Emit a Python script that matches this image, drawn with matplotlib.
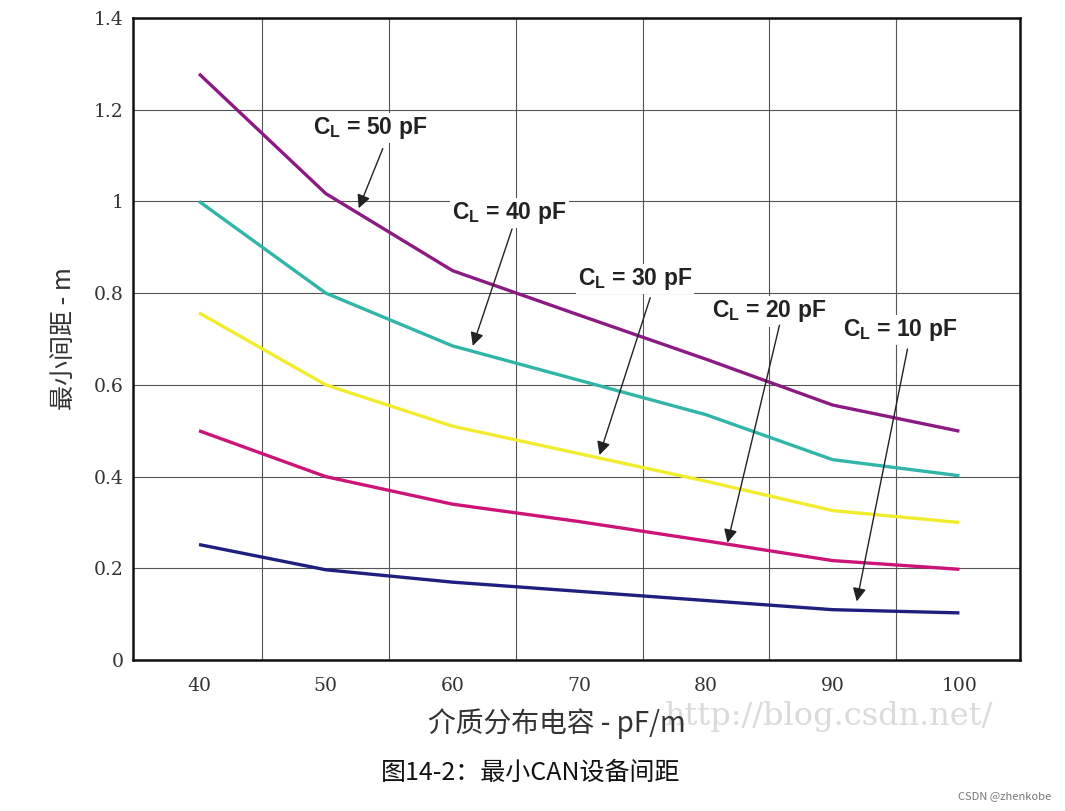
import numpy as np
import matplotlib
matplotlib.use("Agg")
import matplotlib.pyplot as plt

plt.rcParams['font.family'] = ['Noto Sans CJK SC', 'DejaVu Sans']

# data
cap_pf = [40, 50, 60, 70, 80, 90, 100]
cl50 = [1.278, 1.017, 0.849, 0.752, 0.656, 0.556, 0.499]
cl40 = [1.000, 0.800, 0.685, 0.610, 0.535, 0.437, 0.402]
cl30 = [0.757, 0.600, 0.510, 0.450, 0.390, 0.326, 0.300]
cl20 = [0.500, 0.400, 0.340, 0.302, 0.260, 0.217, 0.198]
cl10 = [0.252, 0.197, 0.170, 0.150, 0.130, 0.110, 0.103]

series = [cl50, cl40, cl30, cl20, cl10]
colors = ['#8b1a82', '#30b5a8', '#f2ec2e', '#cc1478', '#1f1f80']

labels = ['50', '40', '30', '20', '10']
# (text x, text y, arrow start x, y, arrow tip x, y)
notes = [
    (53.5, 1.16, 54.5, 1.115, 52.6, 0.985),
    (64.5, 0.975, 64.7, 0.94, 61.6, 0.685),
    (74.4, 0.83, 75.6, 0.79, 71.6, 0.447),
    (85.0, 0.76, 85.8, 0.73, 81.7, 0.256),
    (95.3, 0.72, 95.9, 0.678, 91.9, 0.128),
]

yticks = [0, 0.2, 0.4, 0.6, 0.8, 1, 1.2, 1.4]
ytick_labels = ['0', '0.2', '0.4', '0.6', '0.8', '1', '1.2', '1.4']

fig = plt.figure(figsize=(10.65, 8.11), dpi=100)
ax = fig.add_axes([0.125, 0.186, 0.833, 0.792])

for ys, c in zip(series, colors):
    ax.plot(cap_pf, ys, color=c, lw=2.4, solid_capstyle='butt', zorder=3)

ax.set_xlim(34.8, 104.8)
ax.set_ylim(0, 1.4)
ax.set_xticks(cap_pf)
ax.set_xticks([45, 55, 65, 75, 85, 95], minor=True)
ax.set_yticks(yticks)
ax.set_yticklabels(ytick_labels)
ax.grid(False)
ax.grid(True, axis='x', which='minor', color='#555555', lw=0.8)
ax.grid(True, axis='y', which='major', color='#555555', lw=0.8)
ax.tick_params(which='both', length=0)
ax.tick_params(axis='x', pad=12)
ax.tick_params(axis='y', pad=7)
for lab in ax.get_xticklabels() + ax.get_yticklabels():
    lab.set_fontfamily('DejaVu Serif')
    lab.set_fontsize(13.5)
    lab.set_color('#333333')
for sp in ax.spines.values():
    sp.set_linewidth(1.8)
    sp.set_color('#111111')

for lab, (tx, ty, sx, sy, ex, ey) in zip(labels, notes):
    ax.text(tx, ty, 'C$_\\mathregular{L}$ = ' + lab + ' pF', ha='center', va='center',
            fontsize=16.5, fontweight='bold', family='Liberation Sans', color='#222222',
            bbox=dict(facecolor='white', edgecolor='none', pad=1.5), zorder=4)
    ax.annotate('', xy=(ex, ey), xytext=(sx, sy),
                arrowprops=dict(arrowstyle='-|>', color='#222222', lw=1.0,
                                mutation_scale=20, shrinkA=0, shrinkB=0), zorder=5)

ax.set_ylabel('最小间距 - m', fontsize=18, color='#333333', labelpad=12)

fig.text(0.523, 0.108, '介质分布电容 - pF/m', ha='center', va='center',
         fontsize=20, color='#333333')
fig.text(0.778, 0.116, 'http://blog.csdn.net/', ha='center', va='center',
         fontsize=23, color='#dadada', family='DejaVu Serif', zorder=0)
fig.text(0.498, 0.047, '图14-2：最小CAN设备间距', ha='center', va='center',
         fontsize=18, color='#111111')
fig.text(0.987, 0.018, 'CSDN @zhenkobe', ha='right', va='center',
         fontsize=8, color='#777777')

fig.savefig('out.png', dpi=100)
